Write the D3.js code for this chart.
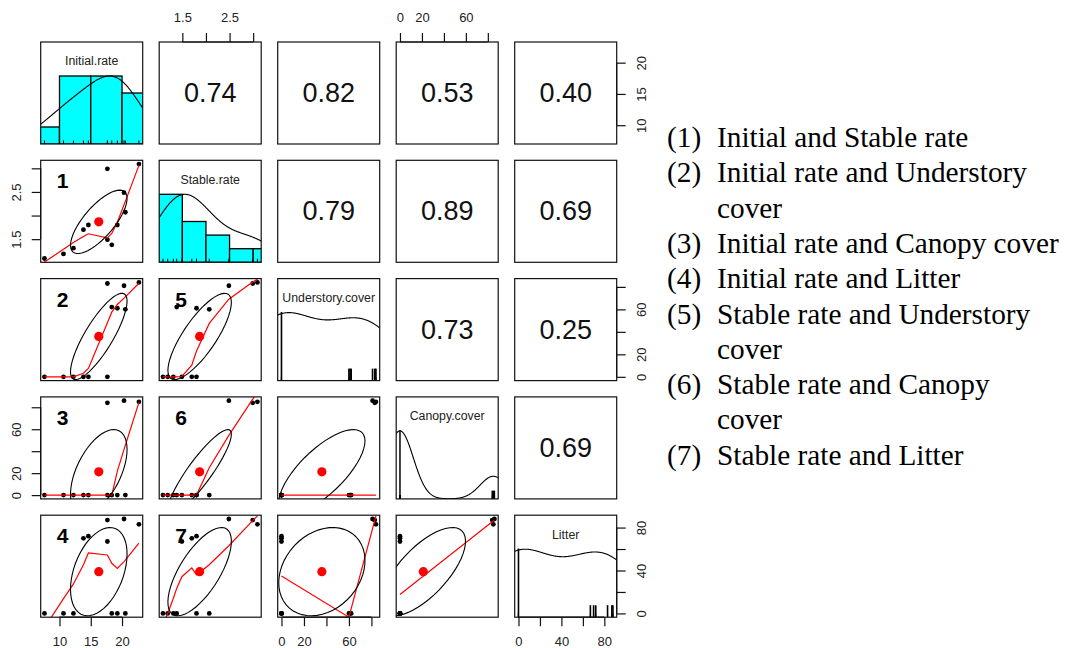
<!DOCTYPE html>
<html><head><meta charset="utf-8">
<script src="https://cdn.jsdelivr.net/npm/d3@7"></script>
<style>body{margin:0;background:#fff}svg{display:block}</style>
</head><body><svg id="c" width="1065" height="648"></svg>
<script>
// ---------------- data ----------------
const varNames = ["Initial.rate", "Stable.rate", "Understory.cover", "Canopy.cover", "Litter"];
const initialRate     = [7.6, 10.64, 12.23, 13.83, 14.62, 17.66, 17.66, 18.36, 19.25, 20.32, 20.53, 22.7];
const stableRate      = [1.09, 1.19, 1.31, 1.70, 1.80, 1.49, 2.99, 1.38, 1.80, 2.485, 2.07, 3.09];
const understoryCover = [0, 0, 0, 0, 0, 0, 83, 62, 61, 81, 60, 84];
const canopyCover     = [0, 0, 0, 0, 0, 0, 84, 0, 0, 86, 0, 85];
const litter          = [0, 0, 0, 70, 72, 67, 87, 0, 0, 88, 0, 83];
// printed correlations, upper triangle row by row
const corrValues = [0.74, 0.82, 0.53, 0.40, 0.79, 0.89, 0.69, 0.73, 0.25, 0.69];
// pair numbers written in the lower panels: [row, col, label]
const panelNumbers = [[1,0,"1"],[2,0,"2"],[3,0,"3"],[4,0,"4"],[2,1,"5"],[3,1,"6"],[4,1,"7"]];
const tickValues = [[10,15,20],[1.5,2,2.5,3],[0,20,40,60,80],[0,20,40,60,80],[0,20,40,60,80]];
const tickLabels = [["10","15","20"],["1.5","","2.5",""],["0","20","","60",""],["0","20","","60",""],["0","","40","","80"]];
const legendItems = [
  ["(1)", "Initial and Stable rate"],
  ["(2)", "Initial rate and Understory", "cover"],
  ["(3)", "Initial rate and Canopy cover"],
  ["(4)", "Initial rate and Litter"],
  ["(5)", "Stable rate and Understory", "cover"],
  ["(6)", "Stable rate and Canopy", "cover"],
  ["(7)", "Stable rate and Litter"]
];
const data = [initialRate, stableRate, understoryCover, canopyCover, litter];

// ---------------- helpers ----------------
function lowess(xIn, yIn, f = 2/3, nsteps = 3) {
  const n = xIn.length;
  const idx = d3.range(n).sort((a, b) => (xIn[a] - xIn[b]) || (a - b));
  const x = [0, ...idx.map(i => xIn[i])], y = [0, ...idx.map(i => yIn[i])];
  const delta = 0.01 * (x[n] - x[1]);
  const ys = new Array(n + 1).fill(0), rw = new Array(n + 1).fill(1), w = new Array(n + 1).fill(0);
  const ns = Math.max(2, Math.min(n, Math.floor(f * n + 1e-7)));
  function lowest(xs, nleft, nright, userw) {
    const range = x[n] - x[1];
    const h = Math.max(xs - x[nleft], x[nright] - xs);
    const h9 = 0.999 * h, h1 = 0.001 * h;
    let a = 0, j = nleft;
    while (j <= n) {
      w[j] = 0;
      const r = Math.abs(x[j] - xs);
      if (r <= h9) {
        w[j] = r <= h1 ? 1 : Math.pow(1 - Math.pow(r / h, 3), 3);
        if (userw) w[j] *= rw[j];
        a += w[j];
      } else if (x[j] > xs) break;
      j++;
    }
    const nrt = j - 1;
    if (a <= 0) return null;
    for (j = nleft; j <= nrt; j++) w[j] /= a;
    if (h > 0) {
      a = 0;
      for (j = nleft; j <= nrt; j++) a += w[j] * x[j];
      let b = xs - a, c = 0;
      for (j = nleft; j <= nrt; j++) c += w[j] * (x[j] - a) * (x[j] - a);
      if (Math.sqrt(c) > 0.001 * range) {
        b /= c;
        for (j = nleft; j <= nrt; j++) w[j] *= (b * (x[j] - a) + 1);
      }
    }
    let v = 0;
    for (j = nleft; j <= nrt; j++) v += w[j] * y[j];
    return v;
  }
  let iter = 1;
  while (iter <= nsteps + 1) {
    let nleft = 1, nright = ns, last = 0, i = 1;
    for (;;) {
      if (nright < n) {
        const d1 = x[i] - x[nleft], d2 = x[nright + 1] - x[i];
        if (d1 > d2) { nleft++; nright++; continue; }
      }
      const v = lowest(x[i], nleft, nright, iter > 1);
      ys[i] = v === null ? y[i] : v;
      if (last < i - 1) {
        const denom = x[i] - x[last];
        for (let j = last + 1; j < i; j++) {
          const al = (x[j] - x[last]) / denom;
          ys[j] = al * ys[i] + (1 - al) * ys[last];
        }
      }
      last = i;
      const cut = x[last] + delta;
      for (i = last + 1; i <= n; i++) {
        if (x[i] > cut) break;
        if (x[i] === x[last]) { ys[i] = ys[last]; last = i; }
      }
      i = Math.max(last + 1, i - 1);
      if (last >= n) break;
    }
    const res = [];
    for (let k = 1; k <= n; k++) res[k] = y[k] - ys[k];
    let sc = 0;
    for (let k = 1; k <= n; k++) sc += Math.abs(res[k]);
    sc /= n;
    if (iter > nsteps) break;
    const ar = d3.range(1, n + 1).map(k => Math.abs(res[k])).sort((a, b) => a - b);
    const m1 = Math.floor(n / 2);
    const cmad = n % 2 === 0 ? 3 * (ar[m1] + ar[n - m1 - 1]) : 6 * ar[m1];
    if (cmad < 1e-7 * sc) break;
    const c9 = 0.999 * cmad, c1 = 0.001 * cmad;
    for (let k = 1; k <= n; k++) {
      const r = Math.abs(res[k]);
      rw[k] = r <= c1 ? 1 : (r <= c9 ? Math.pow(1 - Math.pow(r / cmad, 2), 2) : 0);
    }
    iter++;
  }
  return d3.range(1, n + 1).map(k => [x[k], ys[k]]);
}

function densityCurve(vals, adjust = 1.2) {
  const n = vals.length;
  const s = vals.slice().sort((a, b) => a - b);
  const q = p => { const h = (n - 1) * p, lo = Math.floor(h); return s[lo] + (h - lo) * (s[Math.min(lo + 1, n - 1)] - s[lo]); };
  const hq = (q(0.75) - q(0.25)) / 1.34;
  const bw = 1.06 * Math.min(d3.deviation(vals), hq) * Math.pow(n, -0.2) * adjust;
  const lo = s[0] - 3 * bw, hi = s[n - 1] + 3 * bw;
  const pts = d3.range(512).map(k => {
    const xv = lo + (hi - lo) * k / 511;
    let d = 0;
    for (const v of vals) { const z = (xv - v) / bw; d += Math.exp(-0.5 * z * z); }
    return [xv, d];
  });
  const mx = d3.max(pts, p => p[1]);
  return pts.map(p => [p[0], p[1] / mx]);
}

// ---------------- layout ----------------
const svg = d3.select("#c");
svg.append("rect").attr("width", 1065).attr("height", 648).attr("fill", "#fff");
const PX0 = 40.7, PXS = 118.5, PY0 = 42, PYS = 118.3, PW = 102, PH = 102;
const nv = varNames.length, nObs = initialRate.length;
const pLeft = c => PX0 + c * PXS, pTop = r => PY0 + r * PYS;
const doms = data.map(v => { const [a, b] = d3.extent(v); const p = 0.04 * (b - a); return [a - p, b + p]; });
const xScale = c => d3.scaleLinear().domain(doms[c]).range([pLeft(c), pLeft(c) + PW]);
const yScale = r => d3.scaleLinear().domain(doms[r]).range([pTop(r) + PH, pTop(r)]);
const R = Array.from({length: nv}, () => Array(nv).fill(1));
{ let k = 0; for (let i = 0; i < nv; i++) for (let j = i + 1; j < nv; j++) { R[i][j] = R[j][i] = corrValues[k++]; } }
const SANS = "'Liberation Sans', Arial, Helvetica, sans-serif";
const defs = svg.append("defs");
const lineGen = d3.line();

for (let r = 0; r < nv; r++) {
  for (let c = 0; c < nv; c++) {
    const id = `clip${r}${c}`;
    defs.append("clipPath").attr("id", id).append("rect")
      .attr("x", pLeft(c)).attr("y", pTop(r)).attr("width", PW).attr("height", PH);
    const g = svg.append("g");
    const cg = g.append("g").attr("clip-path", `url(#${id})`);
    const X = xScale(c);
    if (r === c) {
      const vals = data[c];
      const Y = d3.scaleLinear().domain([0, 1.5]).range([pTop(r) + PH, pTop(r)]);
      const counts = d3.rollup(vals, v => v.length, d => d);
      const uniq = Array.from(counts.keys()).sort((a, b) => a - b);
      let bars;
      if (uniq.length < 11) {
        const mxc = d3.max(uniq, u => counts.get(u));
        const md = d3.min(d3.pairs(uniq), p => p[1] - p[0]);
        const ib = md * (uniq.length - 1) / 41;
        bars = uniq.map(u => ({x0: u - ib, x1: u + ib, h: counts.get(u) / mxc}));
      } else {
        const nc = d3.thresholdSturges(vals);
        const br = d3.scaleLinear().domain(d3.extent(vals)).nice(nc).ticks(nc);
        const cnt = br.slice(0, -1).map((b, k) => vals.filter(v => (k === 0 ? v >= b : v > b) && v <= br[k + 1]).length);
        const mxc = d3.max(cnt);
        bars = cnt.map((ct, k) => ({x0: br[k], x1: br[k + 1], h: ct / mxc}));
      }
      cg.selectAll("rect.bar").data(bars).join("rect").attr("class", "bar")
        .attr("x", d => X(d.x0)).attr("width", d => Math.max(0, X(d.x1) - X(d.x0)))
        .attr("y", d => Y(d.h)).attr("height", d => Y(0) - Y(d.h))
        .attr("fill", "#00FFFF").attr("stroke", "#000").attr("stroke-width", 1.3);
      const dc = densityCurve(vals);
      cg.append("path").attr("d", lineGen.x(d => X(d[0])).y(d => Y(d[1]))(dc))
        .attr("fill", "none").attr("stroke", "#000").attr("stroke-width", 1.1);
      cg.selectAll("line.rug").data(vals).join("line").attr("class", "rug")
        .attr("x1", d => X(d)).attr("x2", d => X(d))
        .attr("y1", pTop(r) + PH).attr("y2", pTop(r) + PH - 0.035 * PH)
        .attr("stroke", "#000").attr("stroke-width", 1);
      g.append("text").attr("x", pLeft(c) + PW / 2).attr("y", pTop(r) + PH * 0.19)
        .attr("text-anchor", "middle").attr("dominant-baseline", "central")
        .attr("font-family", SANS).attr("font-size", 12.3).attr("fill", "#222").text(varNames[c]);
    } else if (r > c) {
      const Y = yScale(r), xv = data[c], yv = data[r];
      cg.selectAll("circle.pt").data(d3.range(nObs)).join("circle").attr("class", "pt")
        .attr("cx", i => X(xv[i])).attr("cy", i => Y(yv[i])).attr("r", 2.4).attr("fill", "#000");
      const lw = lowess(xv, yv);
      cg.append("path").attr("d", lineGen.x(d => X(d[0])).y(d => Y(d[1]))(lw))
        .attr("fill", "none").attr("stroke", "#FF0000").attr("stroke-width", 1.2);
      const mx = d3.mean(xv), my = d3.mean(yv), sx = d3.deviation(xv), sy = d3.deviation(yv), rr = R[r][c];
      cg.append("circle").attr("cx", X(mx)).attr("cy", Y(my)).attr("r", 4.6).attr("fill", "#FF0000");
      const th = (rr !== 0 ? Math.sign(rr) : 1) / Math.SQRT2;
      const a1 = Math.sqrt(1 + rr) * th, a2 = Math.sqrt(1 - rr) * th;
      const ell = d3.range(52).map(s => {
        const an = s * 2 * Math.PI / 51, co = Math.cos(an), si = Math.sin(an);
        return [mx + (co * a1 - si * a2) * sx, my + (co * a1 + si * a2) * sy];
      });
      cg.append("path").attr("d", lineGen.x(d => X(d[0])).y(d => Y(d[1]))(ell))
        .attr("fill", "none").attr("stroke", "#000").attr("stroke-width", 1.1);
    } else {
      g.append("text").attr("x", pLeft(c) + PW / 2).attr("y", pTop(r) + PH / 2)
        .attr("text-anchor", "middle").attr("dominant-baseline", "central")
        .attr("font-family", SANS).attr("font-size", 27).attr("fill", "#111")
        .text(d3.format(".2f")(R[r][c]));
    }
    g.append("rect").attr("x", pLeft(c)).attr("y", pTop(r)).attr("width", PW).attr("height", PH)
      .attr("fill", "none").attr("stroke", "#111").attr("stroke-width", 1.2);
  }
}

// pair numbers
svg.selectAll("text.pn").data(panelNumbers).join("text").attr("class", "pn")
  .attr("x", d => pLeft(d[1]) + 22).attr("y", d => pTop(d[0]) + 28)
  .attr("text-anchor", "middle").attr("font-family", SANS).attr("font-weight", "bold")
  .attr("font-size", 21).attr("fill", "#000").text(d => d[2]);

// ---------------- axes ----------------
const LD = 24.5;
function drawAxis(gen, k, transform, side) {
  const ticks = tickValues[k], labs = tickLabels[k];
  const ax = svg.append("g").attr("transform", transform)
    .call(gen.tickValues(ticks).tickFormat((d, i) => labs[i]).tickSize(9).tickSizeOuter(0));
  ax.select(".domain").remove();
  const sc = gen.scale();
  const vertical = side === "left" || side === "right";
  ax.append("line")
    .attr(vertical ? "y1" : "x1", sc(ticks[0])).attr(vertical ? "y2" : "x2", sc(ticks[ticks.length - 1]))
    .attr(vertical ? "x1" : "y1", 0).attr(vertical ? "x2" : "y2", 0)
    .attr("stroke", "#111").attr("stroke-width", 1.2);
  ax.selectAll(".tick line").attr("stroke", "#111").attr("stroke-width", 1.2);
  const t = ax.selectAll(".tick text").attr("font-family", SANS).attr("font-size", 13).attr("fill", "#222");
  if (side === "top") t.attr("y", -LD).attr("dy", "0.35em");
  if (side === "bottom") t.attr("y", LD).attr("dy", "0.35em");
  if (side === "left") t.attr("transform", "rotate(-90)").attr("x", 0).attr("y", -LD).attr("dy", "0.35em").attr("text-anchor", "middle");
  if (side === "right") t.attr("transform", "rotate(-90)").attr("x", 0).attr("y", LD).attr("dy", "0.35em").attr("text-anchor", "middle");
}
const lastC = pLeft(nv - 1) + PW, lastR = pTop(nv - 1) + PH;
for (let k = 0; k < nv; k++) {
  if (k % 2 === 1) {
    drawAxis(d3.axisTop(xScale(k)), k, `translate(0,${pTop(0)})`, "top");
    drawAxis(d3.axisLeft(yScale(k)), k, `translate(${pLeft(0)},0)`, "left");
  } else {
    drawAxis(d3.axisBottom(xScale(k)), k, `translate(0,${lastR})`, "bottom");
    drawAxis(d3.axisRight(yScale(k)), k, `translate(${lastC},0)`, "right");
  }
}

// ---------------- legend ----------------
const SERIF = "'Liberation Serif', 'Times New Roman', Times, serif";
const legendLines = [];
legendItems.forEach(it => { legendLines.push([it[0], it[1]]); for (const extra of it.slice(2)) legendLines.push(["", extra]); });
const lg = svg.append("g").attr("font-family", SERIF).attr("font-size", 29.3).attr("fill", "#000");
legendLines.forEach((ln, i) => {
  const yb = 147 + i * 35.3;
  if (ln[0]) lg.append("text").attr("x", 667).attr("y", yb).text(ln[0]);
  lg.append("text").attr("x", 717).attr("y", yb).text(ln[1]);
});
</script></body></html>
